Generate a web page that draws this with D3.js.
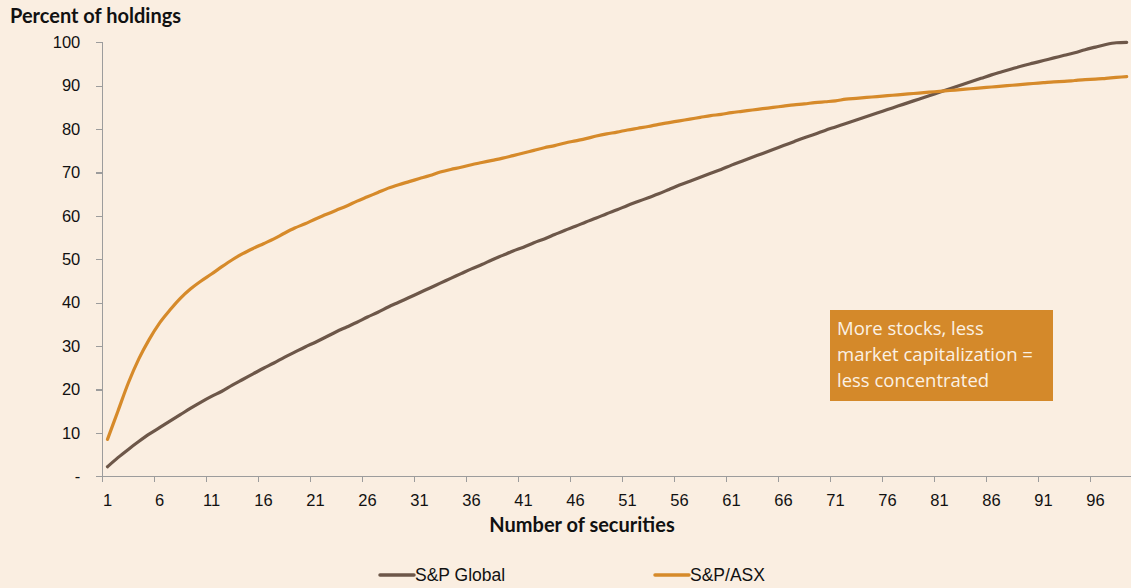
<!DOCTYPE html>
<html lang="en">
<head>
    <meta charset="UTF-8">
    <title>Percent of holdings by number of securities</title>
    <script src="https://d3js.org/d3.v7.min.js"></script>
    <style>
        body { margin: 0; background: #faeee1; }
        svg { display: block; }
        .axis path, .axis line { fill: none; stroke: #9c9c9c; stroke-width: 1.3; shape-rendering: crispEdges; }
        .axis text { font-family: "Liberation Sans", Arial, sans-serif; font-size: 16.5px; fill: #111; }
        .title { font-family: Lato, "Open Sans", sans-serif; font-weight: bold; font-size: 20px; fill: #111; }
        .legend text { font-family: "Liberation Sans", Arial, sans-serif; font-size: 17.5px; fill: #111; }
        .note { font-family: "Open Sans", Lato, sans-serif; font-size: 18.5px; fill: #fbf1e4; }
    </style>
</head>
<body>
<svg id="chart" width="1131" height="588"></svg>
<script>
    // number of securities on the x axis (1..99)
    var securities = d3.range(1, 100);
    var xTickLabels = [1, 6, 11, 16, 21, 26, 31, 36, 41, 46, 51, 56, 61, 66, 71, 76, 81, 86, 91, 96];
    var yTicks = [0, 10, 20, 30, 40, 50, 60, 70, 80, 90, 100];

    var seriesNames = ["S&P Global", "S&P/ASX"];

    // cumulative percent of holdings
    var spGlobal = [
        2.2, 4.3, 6.2, 8.0, 9.7, 11.2, 12.7, 14.2, 15.7, 17.1,
        18.4, 19.6, 21.0, 22.3, 23.6, 24.9, 26.1, 27.4, 28.6, 29.8,
        30.9, 32.1, 33.3, 34.4, 35.5, 36.7, 37.8, 39.0, 40.1, 41.2,
        42.3, 43.4, 44.5, 45.6, 46.7, 47.8, 48.8, 49.9, 50.9, 51.9,
        52.8, 53.8, 54.7, 55.7, 56.7, 57.6, 58.6, 59.5, 60.5, 61.4,
        62.4, 63.3, 64.2, 65.1, 66.1, 67.1, 68.0, 68.9, 69.8, 70.7,
        71.7, 72.6, 73.5, 74.4, 75.3, 76.2, 77.1, 78.0, 78.8, 79.7,
        80.5, 81.3, 82.1, 82.9, 83.7, 84.5, 85.3, 86.1, 86.9, 87.7,
        88.5, 89.3, 90.1, 90.9, 91.7, 92.5, 93.2, 93.9, 94.6, 95.2,
        95.8, 96.4, 97.0, 97.6, 98.3, 98.9, 99.5, 99.9, 100.0
    ];
    var spAsx = [
        8.5, 15.0, 21.5, 27.0, 31.5, 35.3, 38.3, 41.0, 43.2, 45.0,
        46.6, 48.3, 49.9, 51.3, 52.5, 53.6, 54.7, 56.0, 57.2, 58.2,
        59.3, 60.3, 61.3, 62.3, 63.4, 64.4, 65.4, 66.4, 67.2, 67.9,
        68.6, 69.3, 70.1, 70.7, 71.2, 71.8, 72.3, 72.8, 73.3, 73.9,
        74.5, 75.1, 75.7, 76.2, 76.8, 77.3, 77.8, 78.4, 78.9, 79.3,
        79.8, 80.2, 80.6, 81.1, 81.5, 81.9, 82.3, 82.7, 83.1, 83.4,
        83.8, 84.1, 84.4, 84.7, 85.0, 85.3, 85.6, 85.8, 86.1, 86.3,
        86.5, 86.9, 87.1, 87.3, 87.5, 87.7, 87.9, 88.1, 88.3, 88.5,
        88.7, 88.9, 89.1, 89.3, 89.5, 89.7, 89.9, 90.1, 90.3, 90.5,
        90.7, 90.9, 91.0, 91.2, 91.4, 91.5, 91.7, 91.9, 92.1
    ];
    var seriesColors = ["#6d5749", "#d68a2a"];

    var svg = d3.select("#chart"),
        margin = {top: 42.3, left: 102.3},
        plotBottom = 476.3,
        step = 10.4;

    var x = d3.scaleBand()
        .domain(securities)
        .range([margin.left, margin.left + securities.length * step])
        .padding(0);

    var y = d3.scaleLinear()
        .domain([0, 100])
        .range([plotBottom, margin.top]);

    svg.append("rect")
        .attr("width", 1131).attr("height", 588)
        .attr("fill", "#faeee1");

    // y axis
    svg.append("g")
        .attr("class", "axis axis--y")
        .attr("transform", "translate(" + margin.left + ",0)")
        .call(d3.axisLeft(y).tickValues(yTicks).tickSize(6).tickPadding(16)
            .tickFormat(function(d) { return d === 0 ? "-" : d; }))
        .call(function(g) { g.select(".domain").attr("d", "M0," + y(100) + "V" + y(0)); });

    // x axis: labels centred on the category, tick marks on its left edge
    var xAxis = svg.append("g")
        .attr("class", "axis axis--x")
        .attr("transform", "translate(0," + plotBottom + ")")
        .call(d3.axisBottom(x).tickValues(xTickLabels).tickSize(6).tickPadding(12));
    xAxis.select(".domain").attr("d", "M" + margin.left + ",0H1131");
    xAxis.selectAll(".tick line").attr("x1", -x.bandwidth() / 2).attr("x2", -x.bandwidth() / 2);

    var line = d3.line()
        .x(function(d, i) { return x(securities[i]) + x.bandwidth() / 2; })
        .y(function(d) { return y(d); })
        .curve(d3.curveMonotoneX);

    [spGlobal, spAsx].forEach(function(values, i) {
        svg.append("path")
            .datum(values)
            .attr("fill", "none")
            .attr("stroke", seriesColors[i])
            .attr("stroke-width", 3.2)
            .attr("stroke-linecap", "round")
            .attr("stroke-linejoin", "round")
            .attr("d", line);
    });

    // titles
    svg.append("text")
        .attr("class", "title")
        .attr("x", 10).attr("y", 23)
        .text("Percent of holdings");

    svg.append("text")
        .attr("class", "title")
        .attr("x", 582).attr("y", 532)
        .attr("text-anchor", "middle")
        .text("Number of securities");

    // annotation box
    var note = svg.append("g").attr("transform", "translate(830,310)");
    note.append("rect")
        .attr("width", 223).attr("height", 91)
        .attr("fill", "#d4892a");
    ["More stocks, less", "market capitalization =", "less concentrated"].forEach(function(t, i) {
        note.append("text")
            .attr("class", "note")
            .attr("x", 7).attr("y", 25 + i * 26)
            .text(t);
    });

    // legend
    var legend = svg.append("g").attr("class", "legend");
    var legendX = [380, 655];
    seriesNames.forEach(function(name, i) {
        legend.append("line")
            .attr("x1", legendX[i]).attr("x2", legendX[i] + 34)
            .attr("y1", 575).attr("y2", 575)
            .attr("stroke", seriesColors[i])
            .attr("stroke-width", 3.5)
            .attr("stroke-linecap", "round");
        legend.append("text")
            .attr("x", legendX[i] + 35).attr("y", 581)
            .text(name);
    });
</script>
</body>
</html>
